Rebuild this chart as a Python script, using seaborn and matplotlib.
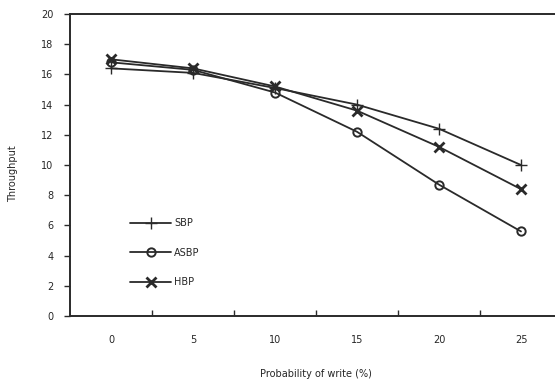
import numpy as np
import pandas as pd
import seaborn as sns
import matplotlib.pyplot as plt
from matplotlib.ticker import FixedLocator

categories = ['0', '5', '10', '15', '20', '25']
sbp = [16.4, 16.1, 15.1, 14.0, 12.4, 10.0]
asbp = [16.8, 16.3, 14.8, 12.2, 8.7, 5.6]
hbp = [17.0, 16.4, 15.2, 13.6, 11.2, 8.4]

sns.set_style('white')
plt.rcParams['font.family'] = ['DejaVu Sans']

fig = plt.figure(figsize=(5.55, 3.82), dpi=100)
ax = fig.add_axes([70 / 555, 66 / 382, 492 / 555, 302 / 382])

ink = '#2a2a2a'
series = [('SBP', sbp, '+', 9, 1.0), ('ASBP', asbp, 'o', 6, 1.4), ('HBP', hbp, 'x', 7, 2.0)]
for name, vals, mk, ms, mew in series:
    sns.lineplot(x=categories, y=vals, ax=ax, color=ink, lw=1.3, marker=mk,
                 markersize=ms, markeredgewidth=mew, markerfacecolor='none',
                 markeredgecolor=ink, label=name)

ax.set_xlim(-0.5, 5.5)
ax.set_ylim(0, 20)
ax.set_yticks(range(0, 21, 2))
ax.xaxis.set_major_locator(FixedLocator([0.5, 1.5, 2.5, 3.5, 4.5]))
ax.xaxis.set_minor_locator(FixedLocator(range(6)))
ax.set_xticklabels([], minor=False)
ax.set_xticklabels(categories, minor=True)
ax.tick_params(axis='x', which='major', direction='in', length=4, width=1, color=ink)
ax.tick_params(axis='x', which='minor', length=0, pad=14, labelsize=7)
ax.tick_params(axis='y', direction='out', length=4, width=1, color=ink, labelsize=7, pad=8)
ax.tick_params(left=True, bottom=True)

for s in ax.spines.values():
    s.set_color(ink)
    s.set_linewidth(1.4)

ax.set_xlabel('Probability of write (%)', fontsize=7, labelpad=17)
ax.set_ylabel('Throughput', fontsize=7)
ax.yaxis.set_label_coords(-0.106, 0.47)

ax.legend(loc='center left', bbox_to_anchor=(0.105, 0.21), frameon=False, fontsize=7,
          handlelength=4.2, labelspacing=2.0, handletextpad=0.3)

fig.savefig('out.png', dpi=100)
